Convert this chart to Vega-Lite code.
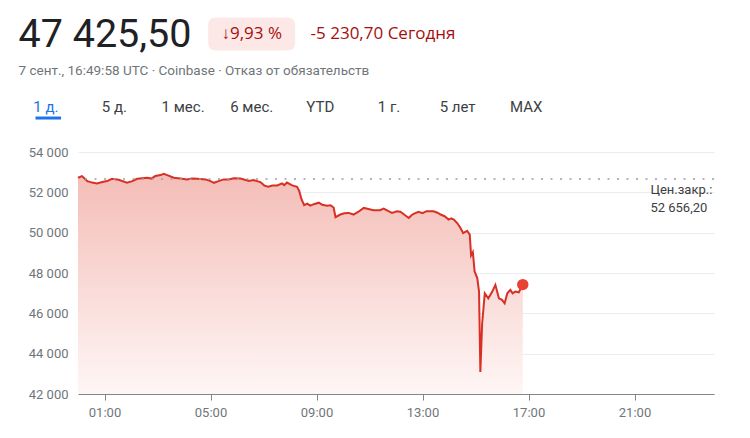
{
  "$schema": "https://vega.github.io/schema/vega-lite/v6.json",
  "padding": {"left": 18, "top": 0, "right": 0, "bottom": 0},
  "spacing": 5,
  "config": {"font": "Roboto", "view": {"stroke": null}},
  "datasets": {
    "btc": [
      {"t": "2021-09-07T00:00:00Z", "price": 52722},
      {"t": "2021-09-07T00:09:00Z", "price": 52807},
      {"t": "2021-09-07T00:21:00Z", "price": 52558},
      {"t": "2021-09-07T00:32:00Z", "price": 52483},
      {"t": "2021-09-07T00:43:00Z", "price": 52443},
      {"t": "2021-09-07T00:55:00Z", "price": 52508},
      {"t": "2021-09-07T01:06:00Z", "price": 52558},
      {"t": "2021-09-07T01:17:00Z", "price": 52672},
      {"t": "2021-09-07T01:32:00Z", "price": 52622},
      {"t": "2021-09-07T01:51:00Z", "price": 52473},
      {"t": "2021-09-07T02:03:00Z", "price": 52558},
      {"t": "2021-09-07T02:14:00Z", "price": 52672},
      {"t": "2021-09-07T02:37:00Z", "price": 52722},
      {"t": "2021-09-07T02:46:00Z", "price": 52682},
      {"t": "2021-09-07T02:55:00Z", "price": 52807},
      {"t": "2021-09-07T03:07:00Z", "price": 52856},
      {"t": "2021-09-07T03:14:00Z", "price": 52921},
      {"t": "2021-09-07T03:22:00Z", "price": 52856},
      {"t": "2021-09-07T03:37:00Z", "price": 52722},
      {"t": "2021-09-07T03:52:00Z", "price": 52682},
      {"t": "2021-09-07T04:07:00Z", "price": 52642},
      {"t": "2021-09-07T04:17:00Z", "price": 52682},
      {"t": "2021-09-07T04:30:00Z", "price": 52672},
      {"t": "2021-09-07T04:49:00Z", "price": 52642},
      {"t": "2021-09-07T05:00:00Z", "price": 52558},
      {"t": "2021-09-07T05:08:00Z", "price": 52473},
      {"t": "2021-09-07T05:18:00Z", "price": 52558},
      {"t": "2021-09-07T05:30:00Z", "price": 52642},
      {"t": "2021-09-07T05:41:00Z", "price": 52632},
      {"t": "2021-09-07T05:53:00Z", "price": 52692},
      {"t": "2021-09-07T06:08:00Z", "price": 52682},
      {"t": "2021-09-07T06:27:00Z", "price": 52558},
      {"t": "2021-09-07T06:37:00Z", "price": 52607},
      {"t": "2021-09-07T06:53:00Z", "price": 52508},
      {"t": "2021-09-07T07:02:00Z", "price": 52333},
      {"t": "2021-09-07T07:11:00Z", "price": 52273},
      {"t": "2021-09-07T07:20:00Z", "price": 52333},
      {"t": "2021-09-07T07:31:00Z", "price": 52343},
      {"t": "2021-09-07T07:42:00Z", "price": 52443},
      {"t": "2021-09-07T07:47:00Z", "price": 52358},
      {"t": "2021-09-07T07:53:00Z", "price": 52483},
      {"t": "2021-09-07T08:05:00Z", "price": 52343},
      {"t": "2021-09-07T08:16:00Z", "price": 52273},
      {"t": "2021-09-07T08:21:00Z", "price": 52060},
      {"t": "2021-09-07T08:26:00Z", "price": 51661},
      {"t": "2021-09-07T08:32:00Z", "price": 51362},
      {"t": "2021-09-07T08:39:00Z", "price": 51437},
      {"t": "2021-09-07T08:46:00Z", "price": 51338},
      {"t": "2021-09-07T08:54:00Z", "price": 51412},
      {"t": "2021-09-07T09:05:00Z", "price": 51487},
      {"t": "2021-09-07T09:13:00Z", "price": 51387},
      {"t": "2021-09-07T09:24:00Z", "price": 51338},
      {"t": "2021-09-07T09:32:00Z", "price": 51362},
      {"t": "2021-09-07T09:39:00Z", "price": 51238},
      {"t": "2021-09-07T09:43:00Z", "price": 50765},
      {"t": "2021-09-07T09:54:00Z", "price": 50899},
      {"t": "2021-09-07T10:03:00Z", "price": 50964},
      {"t": "2021-09-07T10:13:00Z", "price": 50979},
      {"t": "2021-09-07T10:24:00Z", "price": 50899},
      {"t": "2021-09-07T10:35:00Z", "price": 51039},
      {"t": "2021-09-07T10:47:00Z", "price": 51228},
      {"t": "2021-09-07T10:55:00Z", "price": 51188},
      {"t": "2021-09-07T11:09:00Z", "price": 51113},
      {"t": "2021-09-07T11:24:00Z", "price": 51113},
      {"t": "2021-09-07T11:32:00Z", "price": 51198},
      {"t": "2021-09-07T11:43:00Z", "price": 51064},
      {"t": "2021-09-07T11:51:00Z", "price": 50979},
      {"t": "2021-09-07T12:02:00Z", "price": 51064},
      {"t": "2021-09-07T12:10:00Z", "price": 51039},
      {"t": "2021-09-07T12:19:00Z", "price": 50889},
      {"t": "2021-09-07T12:29:00Z", "price": 50730},
      {"t": "2021-09-07T12:35:00Z", "price": 50864},
      {"t": "2021-09-07T12:40:00Z", "price": 50929},
      {"t": "2021-09-07T12:51:00Z", "price": 51029},
      {"t": "2021-09-07T13:00:00Z", "price": 50964},
      {"t": "2021-09-07T13:09:00Z", "price": 51064},
      {"t": "2021-09-07T13:25:00Z", "price": 51064},
      {"t": "2021-09-07T13:34:00Z", "price": 50989},
      {"t": "2021-09-07T13:41:00Z", "price": 50899},
      {"t": "2021-09-07T13:50:00Z", "price": 50815},
      {"t": "2021-09-07T13:59:00Z", "price": 50650},
      {"t": "2021-09-07T14:05:00Z", "price": 50715},
      {"t": "2021-09-07T14:11:00Z", "price": 50650},
      {"t": "2021-09-07T14:19:00Z", "price": 50466},
      {"t": "2021-09-07T14:26:00Z", "price": 50232},
      {"t": "2021-09-07T14:32:00Z", "price": 49983},
      {"t": "2021-09-07T14:41:00Z", "price": 50093},
      {"t": "2021-09-07T14:47:00Z", "price": 49903},
      {"t": "2021-09-07T14:50:00Z", "price": 48872},
      {"t": "2021-09-07T14:54:00Z", "price": 49037},
      {"t": "2021-09-07T14:58:00Z", "price": 48076},
      {"t": "2021-09-07T15:04:00Z", "price": 47752},
      {"t": "2021-09-07T15:08:00Z", "price": 47080},
      {"t": "2021-09-07T15:11:00Z", "price": 43096},
      {"t": "2021-09-07T15:15:00Z", "price": 45486},
      {"t": "2021-09-07T15:21:00Z", "price": 46995},
      {"t": "2021-09-07T15:29:00Z", "price": 46746},
      {"t": "2021-09-07T15:38:00Z", "price": 47080},
      {"t": "2021-09-07T15:45:00Z", "price": 47413},
      {"t": "2021-09-07T15:53:00Z", "price": 46746},
      {"t": "2021-09-07T16:00:00Z", "price": 46666},
      {"t": "2021-09-07T16:06:00Z", "price": 46497},
      {"t": "2021-09-07T16:12:00Z", "price": 46995},
      {"t": "2021-09-07T16:19:00Z", "price": 47164},
      {"t": "2021-09-07T16:24:00Z", "price": 46995},
      {"t": "2021-09-07T16:30:00Z", "price": 47080},
      {"t": "2021-09-07T16:38:00Z", "price": 47045},
      {"t": "2021-09-07T16:47:00Z", "price": 47425.5}
    ],
    "tabs": [
      {"tab": "1 д.", "i": 0},
      {"tab": "5 д.", "i": 1},
      {"tab": "1 мес.", "i": 2},
      {"tab": "6 мес.", "i": 3},
      {"tab": "YTD", "i": 4},
      {"tab": "1 г.", "i": 5},
      {"tab": "5 лет", "i": 6},
      {"tab": "MAX", "i": 7}
    ]
  },
  "vconcat": [
    {
      "width": 636,
      "height": 141,
      "data": {"values": [{}]},
      "layer": [
        {
          "mark": {"type": "point", "shape": "M -1.15 -0.53 L 1.15 -0.53 Q 1.4 -0.53 1.4 -0.28 L 1.4 0.28 Q 1.4 0.53 1.15 0.53 L -1.15 0.53 Q -1.4 0.53 -1.4 0.28 L -1.4 -0.28 Q -1.4 -0.53 -1.15 -0.53 Z", "filled": true, "size": 3860, "color": "#fce8e6", "opacity": 1, "strokeWidth": 0},
          "encoding": {
            "x": {"datum": 3, "type": "quantitative", "scale": {"domain": [0.469, 9.736], "zero": false, "nice": false}, "axis": null},
            "y": {"datum": "price", "type": "nominal", "scale": {"type": "point", "domain": ["price", "meta", "tabs"], "padding": 0.93}, "axis": null}
          }
        },
        {
          "mark": {"type": "text", "align": "left", "baseline": "middle", "fontSize": 39.5, "color": "#202124", "dy": 1.5},
          "encoding": {"x": {"datum": -0.398, "type": "quantitative"}, "y": {"datum": "price", "type": "nominal"}, "text": {"value": "47 425,50"}}
        },
        {
          "mark": {"type": "text", "align": "center", "baseline": "middle", "font": "Open Sans", "fontSize": 17, "color": "#a50e0e"},
          "encoding": {"x": {"datum": 3, "type": "quantitative"}, "y": {"datum": "price", "type": "nominal"}, "text": {"value": "↓9,93 %"}}
        },
        {
          "mark": {"type": "text", "align": "center", "baseline": "middle", "font": "Open Sans", "fontSize": 17, "color": "#a50e0e"},
          "encoding": {"x": {"datum": 4.913, "type": "quantitative"}, "y": {"datum": "price", "type": "nominal"}, "text": {"value": "-5 230,70 Сегодня"}}
        },
        {
          "mark": {"type": "text", "align": "left", "baseline": "middle", "fontSize": 13.5, "color": "#70757a"},
          "encoding": {"x": {"datum": -0.398, "type": "quantitative"}, "y": {"datum": "meta", "type": "nominal"}, "text": {"value": "7 сент., 16:49:58 UTC · Coinbase · Отказ от обязательств"}}
        },
        {
          "data": {"name": "tabs"},
          "mark": {"type": "text", "align": "center", "baseline": "middle", "fontSize": 15, "fontWeight": 400},
          "encoding": {
            "x": {"field": "i", "type": "quantitative"},
            "y": {"datum": "tabs", "type": "nominal"},
            "text": {"field": "tab"},
            "color": {"condition": {"test": "datum.i == 0", "value": "#1a73e8"}, "value": "#3c4043"}
          }
        },
        {
          "mark": {"type": "rule", "color": "#1a73e8", "strokeWidth": 3, "yOffset": 11},
          "encoding": {"x": {"datum": -0.15, "type": "quantitative"}, "x2": {"datum": 0.222}, "y": {"datum": "tabs", "type": "nominal"}}
        }
      ]
    },
    {
      "width": 636,
      "height": 242,
      "layer": [
        {
          "data": {"name": "btc"},
          "mark": {"type": "area", "color": {"gradient": "linear", "x1": 1, "y1": 1, "x2": 1, "y2": 0, "stops": [{"offset": 0, "color": "#fef6f5"}, {"offset": 1, "color": "#f4bdb7"}]}},
          "encoding": {
            "x": {
              "field": "t", "type": "temporal",
              "scale": {"type": "utc", "domain": [{"year": 2021, "month": 9, "date": 7, "hours": 0, "utc": true}, {"year": 2021, "month": 9, "date": 8, "hours": 0, "utc": true}]},
              "axis": {
                "values": [
                  {"year": 2021, "month": 9, "date": 7, "hours": 1, "utc": true},
                  {"year": 2021, "month": 9, "date": 7, "hours": 5, "utc": true},
                  {"year": 2021, "month": 9, "date": 7, "hours": 9, "utc": true},
                  {"year": 2021, "month": 9, "date": 7, "hours": 13, "utc": true},
                  {"year": 2021, "month": 9, "date": 7, "hours": 17, "utc": true},
                  {"year": 2021, "month": 9, "date": 7, "hours": 21, "utc": true}
                ],
                "format": "%H:%M", "grid": false, "title": null,
                "domainColor": "#80868b", "tickColor": "#80868b", "tickSize": 6,
                "labelColor": "#70757a", "labelFontSize": 13, "labelPadding": 6, "labelFlush": false
              }
            },
            "y": {
              "field": "price", "type": "quantitative",
              "scale": {"domain": [42000, 54000], "nice": false, "zero": false},
              "axis": {
                "values": [42000, 44000, 46000, 48000, 50000, 52000, 54000],
                "labelExpr": "replace(format(datum.value, ',d'), ',', ' ')",
                "domain": false, "ticks": false, "title": null,
                "gridColor": "#ebedef", "labelColor": "#70757a", "labelFontSize": 13, "labelPadding": 10
              }
            },
            "y2": {"datum": 42000}
          }
        },
        {
          "data": {"name": "btc"},
          "mark": {"type": "line", "color": "#d93025", "strokeWidth": 2},
          "encoding": {"x": {"field": "t", "type": "temporal"}, "y": {"field": "price", "type": "quantitative"}}
        },
        {
          "data": {"values": [{}]},
          "mark": {"type": "rule", "color": "#9aa0a6", "strokeWidth": 1.5, "strokeDash": [2, 7.5]},
          "encoding": {"y": {"datum": 52656.2, "type": "quantitative"}}
        },
        {
          "data": {"values": [{}]},
          "mark": {"type": "text", "align": "left", "baseline": "top", "dy": 5, "fontSize": 13, "lineHeight": 18, "color": "#3c4043"},
          "encoding": {
            "x": {"datum": {"year": 2021, "month": 9, "date": 7, "hours": 21, "minutes": 36, "utc": true}, "type": "temporal"},
            "y": {"datum": 52656.2, "type": "quantitative"},
            "text": {"value": ["Цен.закр.:", "52 656,20"]}
          }
        },
        {
          "data": {"name": "btc"},
          "transform": [{"filter": {"field": "price", "equal": 47425.5}}],
          "mark": {"type": "circle", "size": 130, "color": "#e94235", "opacity": 1},
          "encoding": {"x": {"field": "t", "type": "temporal"}, "y": {"field": "price", "type": "quantitative"}}
        }
      ]
    }
  ]
}
